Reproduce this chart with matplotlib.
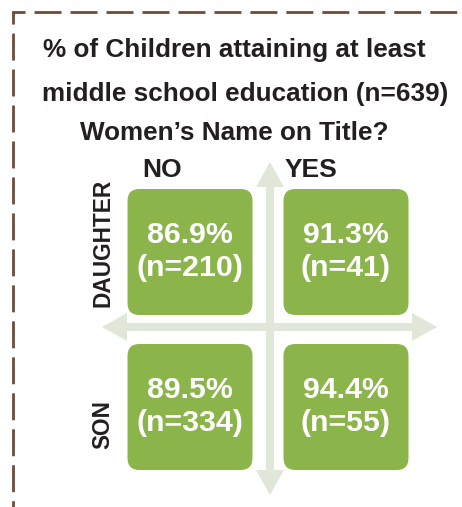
import matplotlib.pyplot as plt
from matplotlib.patches import FancyBboxPatch, FancyArrow

title_lines = ['% of Children attaining at least', 'middle school education (n=639)']
subtitle = 'Women\u2019s Name on Title?'
col_labels = ['NO', 'YES']
row_labels = ['DAUGHTER', 'SON']
pct = [[86.9, 91.3], [89.5, 94.4]]
counts = [[210, 41], [334, 55]]

GREEN = '#8bb54b'
ARROW = '#e0e7d8'
BROWN = '#6e4b3a'
DARK = '#231f20'

plt.rcParams['font.family'] = ['Liberation Sans', 'DejaVu Sans']

fig = plt.figure(figsize=(4.62, 5.07), dpi=100)
ax = fig.add_axes([0, 0, 1, 1])
ax.set_xlim(0, 462)
ax.set_ylim(507, 0)
ax.axis('off')

# dashed frame (top and left sides), starting with a short corner piece
dash_style = (5.0, (9.7, 3.25))
ax.plot([12, 470], [11.5, 11.5], color=BROWN, lw=2, linestyle=dash_style, solid_capstyle='butt')
ax.plot([13, 13], [10.5, 515], color=BROWN, lw=2, linestyle=dash_style, solid_capstyle='butt')

# titles
ax.text(234, 50, title_lines[0], ha='center', va='center', fontsize=18.8, fontweight='bold', color=DARK)
ax.text(245, 94, title_lines[1], ha='center', va='center', fontsize=18.8, fontweight='bold', color=DARK)
ax.text(234.5, 133, subtitle, ha='center', va='center', fontsize=18.8, fontweight='bold', color=DARK)

# cross arrows
cx, cy = 270, 327
for (x0, y0, dx, dy) in [(cx, cy, 0, 162 - cy), (cx, cy, 0, 495 - cy),
                         (cx, cy, 102 - cx, 0), (cx, cy, 437 - cx, 0)]:
    ax.add_patch(FancyArrow(x0, y0, dx, dy, width=8, head_width=28, head_length=25,
                            length_includes_head=True, color=ARROW, lw=0, zorder=1))

# quadrant boxes
col_x = [190, 346]
row_y = [252, 407]
bw, bh = 125, 126
for i, row in enumerate(row_labels):
    for j, col in enumerate(col_labels):
        x, y = col_x[j], row_y[i]
        ax.add_patch(FancyBboxPatch((x - bw / 2, y - bh / 2), bw, bh,
                                    boxstyle='round,pad=0,rounding_size=12',
                                    fc=GREEN, ec='none', zorder=2))
        ax.text(x, y - 17, f'{pct[i][j]:.1f}%', ha='center', va='center',
                fontsize=21.8, fontweight='bold', color='white', zorder=3)
        ax.text(x, y + 16, f'(n={counts[i][j]})', ha='center', va='center',
                fontsize=21.8, fontweight='bold', color='white', zorder=3)

for j, col in enumerate(col_labels):
    ax.text([162, 311][j], 170, col, ha='center', va='center', fontsize=19,
            fontweight='bold', color=DARK)
for i, row in enumerate(row_labels):
    ax.text(103, [243, 425][i], row, ha='center', va='center', rotation=90,
            fontsize=16.3, fontweight='bold', color=DARK)

fig.savefig('out.png', dpi=100)
